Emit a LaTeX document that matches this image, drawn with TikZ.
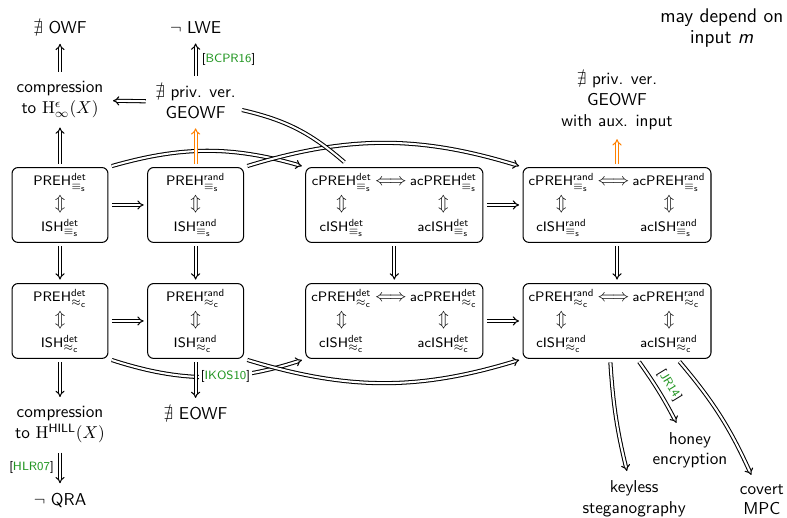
\documentclass[tikz,border=0pt]{standalone}
\usepackage{amsmath}
\usepackage{amssymb}
\usepackage{tikz}
\usetikzlibrary{arrows.meta, positioning}
\renewcommand{\familydefault}{\sfdefault}
\definecolor{citegreen}{RGB}{34,150,34}
\tikzstyle{box} = [rectangle, rounded corners=3.5pt, minimum width=1.96cm, minimum height=1.53cm, inner sep=2pt, text centered, draw=black, font=\footnotesize]
\tikzstyle{goal} = [align=center]
\tikzstyle{impl} = [double, double distance=1.2pt, -{Implies}, shorten >=2pt, shorten <=2pt]
\newcommand{\eqs}{\equiv_{\mathsf{s}}}
\newcommand{\apc}{\approx_{\mathsf{c}}}
\newcommand{\notion}[3]{$\mathsf{#1}^{\mathsf{#2}}_{#3}$}
\newcommand{\updn}{{\normalsize$\Updownarrow$}}
\newcommand{\biimp}{{\normalsize$\Longleftrightarrow$}}
\newcommand{\refcite}[1]{{\scriptsize[\textcolor{citegreen}{#1}]}}
% one notion with its ISH counterpart
\newcommand{\pairbox}[2]{\begin{tabular}{c}\notion{PREH}{#1}{#2}\\[3pt] \updn \\[3pt] \notion{ISH}{#1}{#2}\end{tabular}}
% c/ac variants of both notions
\newcommand{\quadbox}[2]{\begin{tabular}{@{}c@{\hspace{2pt}}c@{\hspace{2pt}}c@{}}\notion{cPREH}{#1}{#2} & \biimp & \notion{acPREH}{#1}{#2}\\[3pt] \updn & & \updn \\[3pt] \notion{cISH}{#1}{#2} & & \notion{acISH}{#1}{#2}\end{tabular}}

\begin{document}
\begin{tikzpicture}[node distance=0cm, line width=0.6pt]
\useasboundingbox (-1.226,4.188) rectangle (14.853,-6.395);
% statistical row
\node (b1) [box] {\pairbox{det}{\eqs}};
\node (b2) [box, right of=b1, xshift=2.77cm] {\pairbox{rand}{\eqs}};
\node (b3) [box, right of=b1, xshift=6.83cm, minimum width=3.62cm] {\quadbox{det}{\eqs}};
\node (b4) [box, right of=b1, xshift=11.38cm, minimum width=3.84cm] {\quadbox{rand}{\eqs}};
% computational row
\node (b5) [box, below of=b1, yshift=-2.37cm] {\pairbox{det}{\apc}};
\node (b6) [box, below of=b2, yshift=-2.37cm] {\pairbox{rand}{\apc}};
\node (b7) [box, below of=b3, yshift=-2.37cm, minimum width=3.62cm] {\quadbox{det}{\apc}};
\node (b8) [box, below of=b4, yshift=-2.37cm, minimum width=3.84cm] {\quadbox{rand}{\apc}};
% consequences above
\node (comp) [goal, above of=b1, yshift=2.15cm] {compression\\to $\mathrm{H}^{\epsilon}_{\infty}(X)$};
\node (owf) [goal, above of=b1, yshift=3.62cm] {$\nexists$ OWF};
\node (geowf) [goal, above of=b2, yshift=2.10cm] {$\nexists$ priv. ver.\\GEOWF};
\node (lwe) [goal, above of=b2, yshift=3.62cm] {$\neg$ LWE};
\node (aux) [goal, above of=b4, yshift=2.12cm] {$\nexists$ priv. ver.\\GEOWF\\with aux. input};
\node (dep) [goal, above of=b4, xshift=2.14cm, yshift=3.62cm, font=\fontsize{11.5}{12}\selectfont] {may depend on\\input \textit{m}};
% consequences below
\node (hill) [goal, below of=b1, yshift=-4.49cm] {compression\\to $\mathrm{H}^{\mathsf{HILL}}(X)$};
\node (qra) [goal, below of=b1, yshift=-6.03cm] {$\neg$ QRA};
\node (eowf) [goal, below of=b2, yshift=-4.27cm] {$\nexists$ EOWF};
\node (steg) [goal, below of=b4, xshift=0.35cm, yshift=-6.0cm] {keyless\\steganography};
\node (honey) [goal, below of=b4, xshift=1.49cm, yshift=-5.01cm] {honey\\encryption};
\node (mpc) [goal, below of=b4, xshift=2.96cm, yshift=-6.02cm] {covert\\MPC};

\draw[impl] (b1) -- (b2);
\draw[impl] (b3) -- (b4);
\draw[impl] (b5) -- (b6);
\draw[impl] (b7) -- (b8);
\draw[impl] (b1) -- (b5);
\draw[impl] (b2) -- (b6);
\draw[impl] (b3) -- (b7);
\draw[impl] (b4) -- (b8);
\draw[impl] (b1.north east) to[bend left=16] (b3.north west);
\draw[impl] (b2.north east) to[bend left=17] (b4.north west);
\draw[double, double distance=1.2pt] ([yshift=-1.6mm]geowf.east) to[bend left=14] ([xshift=0.8cm, yshift=1mm]b3.north west);
\draw[impl] (b1) -- (comp);
\draw[impl] (comp) -- (owf);
\draw[impl] (geowf) -- (comp);
\draw[impl] (geowf) -- node[right] {\refcite{BCPR16}} (lwe);
\draw[impl, orange] (b2) -- (geowf);
\draw[impl, orange] (b4) -- (aux);
\draw[impl] (b5.south east) to[bend right=18] node[pos=0.6, fill=white, inner sep=1pt] {\refcite{IKOS10}} (b7.south west);
\draw[impl] (b6.south east) to[bend right=17] (b8.south west);
\draw[impl] (b5) -- (hill);
\draw[impl] (hill) -- node[left] {\refcite{HLR07}} (qra);
\draw[impl] (b6) -- (eowf);
\draw[impl] ([xshift=-0.14cm]b8.south) to[bend right=5] (steg);
\draw[impl] ([xshift=0.41cm]b8.south) to[bend left=4] node[sloped, above] {\refcite{JR14}} (honey);
\draw[impl] ([xshift=1.23cm]b8.south) to[bend left=8] (mpc);
\end{tikzpicture}
\end{document}
